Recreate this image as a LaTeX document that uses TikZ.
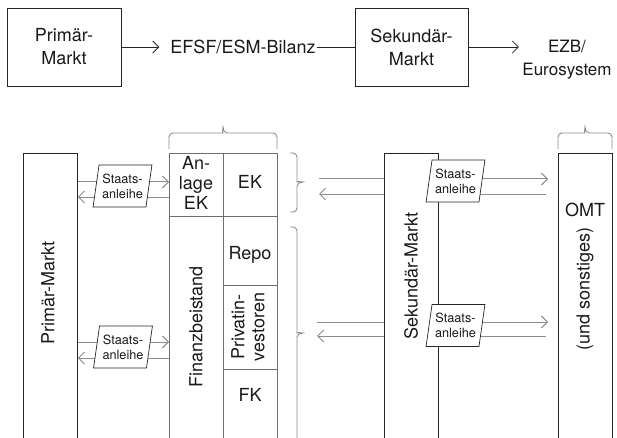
\documentclass[tikz,border=0pt]{standalone}
\usepackage{fontspec}
\setmainfont{TeX Gyre Heros}
\usetikzlibrary{arrows.meta,shapes.geometric}

\definecolor{ink}{HTML}{1A1A1A}
\definecolor{frame}{HTML}{262626}
\definecolor{gridgray}{HTML}{6E6E6E}
\definecolor{flowgray}{HTML}{8C8C8C}

\begin{document}
\begin{tikzpicture}[x=1pt, y=-1pt, font=\fontsize{18}{23}\selectfont,
  every node/.style={text=ink},
  box/.style={draw=frame, line width=.8pt, minimum width=114pt, minimum height=78pt, align=center},
  colbox/.style={draw=frame, line width=.8pt, anchor=north west, minimum width=54pt, minimum height=300pt},
  bond/.style={trapezium, trapezium left angle=79, trapezium right angle=101, trapezium stretches=true,
    draw=frame, fill=white, line width=.7pt, minimum height=42pt, inner sep=3pt, align=center,
    font=\fontsize{12.7}{15}\selectfont},
  link/.style={draw=frame, line width=.8pt},
  flow/.style={draw=flowgray, line width=1pt},
  barb/.style={-{Straight Barb[length=6pt,width=12pt]}},
  bracket/.style={draw=flowgray, line width=.9pt}]
  \useasboundingbox (0,0) rectangle (617,438);
  \fill[white] (0,0) rectangle (617,438);
  \clip (0,0) rectangle (617,438);

  % upper row: from primary market to the Eurosystem
  \node[box] (primaer) at (64,47) {Primär-\\Markt};
  \node[inner sep=1pt] (bilanz) at (243,47) {EFSF/ESM-Bilanz};
  \node[box, minimum width=113pt] (sekundaer) at (411.5,47) {Sekundär-\\Markt};
  \node[align=center, font=\fontsize{17}{23}\selectfont] (ezb) at (567,60) {EZB/\\Eurosystem};
  \draw[link, barb, shorten >=10pt] (primaer) -- (bilanz);
  \draw[link] (bilanz) -- (sekundaer);
  \draw[link, barb] (sekundaer) -- (sekundaer -| ezb.west);

  % columns, open towards the bottom
  \node[colbox] (pm) at (23,153) {};
  \node[colbox, draw=gridgray, minimum width=108pt] (mid) at (169,153) {};
  \node[colbox] (sek) at (384,153) {};
  \node[colbox] (omt) at (558,153) {};

  % balance sheet grid
  \draw[gridgray, line width=.8pt] (mid.north) -- (mid.south)
    (mid.west |- 0,216) -- (mid.east |- 0,216)
    (223,285) -- (mid.east |- 0,285)
    (223,369) -- (mid.east |- 0,369);

  \node[rotate=90] (pmlabel) at (48,293) {Primär-Markt};
  \node[align=center, font=\fontsize{18}{20}\selectfont] (anlage) at (196,183) {An-\\lage\\EK};
  \node (ek) at (250,182) {EK};
  \node (repo) at (250,255) {Repo};
  \node[rotate=90, align=center, font=\fontsize{18}{20}\selectfont] (privat) at (248,327) {Privatin-\\vestoren};
  \node (fk) at (250,395) {FK};
  \node[rotate=90] (fb) at (196,327) {Finanzbeistand};
  \node[rotate=90] (seklabel) at (411,276) {Sekundär-Markt};
  \node (omtlabel) at (585,210) {OMT};
  \node[rotate=90] (undlabel) at (585,289) {(und sonstiges)};

  % flows of government bonds
  \coordinate (a1) at (0,182); \coordinate (a2) at (0,197);
  \coordinate (b1) at (0,342); \coordinate (b2) at (0,358);
  \draw[flow, barb] (pm.east |- a1) -- (mid.west |- a1);
  \draw[flow, barb] (mid.west |- a2) -- (pm.east |- a2);
  \draw[flow, barb] (pm.east |- b1) -- (mid.west |- b1);
  \draw[flow, barb] (mid.west |- b2) -- (pm.east |- b2);

  \coordinate (ekin) at (319,179); \coordinate (ekout) at (319,194);
  \coordinate (fkin) at (317,322); \coordinate (fkout) at (317,336);
  \draw[flow] (sek.west |- ekin) -- (ekin);
  \draw[flow, barb] (sek.west |- ekout) -- (ekout);
  \draw[flow, barb, shorten >=10pt] (sek.east |- ekin) -- (omt.west |- ekin);
  \draw[flow, shorten <=12pt] (omt.west |- ekout) -- (sek.east |- ekout);
  \draw[flow] (sek.west |- fkin) -- (fkin);
  \draw[flow, barb] (sek.west |- fkout) -- (fkout);
  \draw[flow, barb, shorten >=10pt] (sek.east |- fkin) -- (omt.west |- fkin);
  \draw[flow, shorten <=12pt] (omt.west |- fkout) -- (sek.east |- fkout);

  \node[bond] (bond1) at (122.5,186) {Staats-\\anleihe};
  \node[bond] (bond2) at (123,347) {Staats-\\anleihe};
  \node[bond] (bond3) at (455.5,181) {Staats-\\anleihe};
  \node[bond] (bond4) at (455.5,325.5) {Staats-\\anleihe};

  % braces
  \draw[bracket] (169,149) [rounded corners=4pt] -- (169,133) -- (219,133) [sharp corners]
    to[out=0,in=-90] (223,127) to[out=-90,in=180] (227,133) [rounded corners=4pt] -- (277,133) -- (277,149);
  \draw[bracket] (558,149) [rounded corners=4pt] -- (558,133) -- (581,133) [sharp corners]
    to[out=0,in=-90] (585,127) to[out=-90,in=180] (589,133) [rounded corners=4pt] -- (612,133) -- (612,149);
  \draw[bracket] (290,153) [rounded corners=4pt] -- (297,153) -- (297,178) [sharp corners]
    to[out=-90,in=180] (303,182) to[out=180,in=90] (297,186) [rounded corners=4pt] -- (297,212) -- (290,212);
  \draw[bracket] (290,227) [rounded corners=4pt] -- (297,227) -- (297,329) [sharp corners]
    to[out=-90,in=180] (303,333) to[out=180,in=90] (297,337) [rounded corners=4pt] -- (297,445) -- (290,445);
\end{tikzpicture}
\end{document}
